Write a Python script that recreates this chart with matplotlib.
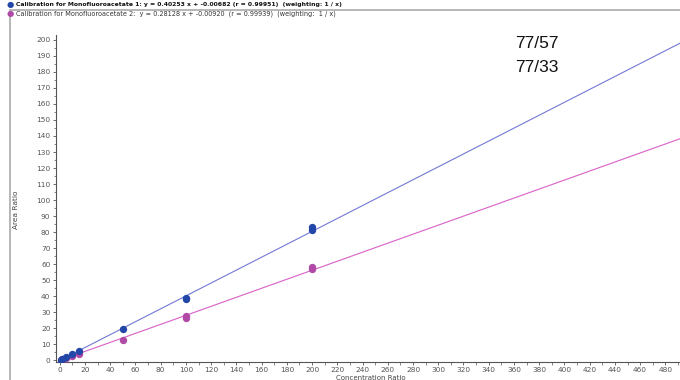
import matplotlib
matplotlib.use("Agg")
import matplotlib.pyplot as plt
import numpy as np
from matplotlib.ticker import MultipleLocator
from matplotlib.lines import Line2D

conc = [1, 2, 5, 10, 15, 50, 100, 100, 200, 200]
area1 = [0.4, 0.8, 2.0, 4.0, 6.0, 19.5, 38.0, 39.0, 81.5, 83.0]
area2 = [0.3, 0.6, 1.4, 2.8, 4.0, 13.0, 26.3, 27.5, 56.8, 58.0]
fit1 = (0.40253, -0.00682)
fit2 = (0.28128, -0.00920)
legend1 = "Calibration for Monofluoroacetate 1: y = 0.40253 x + -0.00682 (r = 0.99951)  (weighting: 1 / x)"
legend2 = "Calibration for Monofluoroacetate 2:  y = 0.28128 x + -0.00920  (r = 0.99939)  (weighting:  1 / x)"
notes = ["77/57", "77/33"]

c1_pt, c1_ln = "#2347a8", "#7378d4"
c2_pt, c2_ln = "#b04aa6", "#d860c8"

fig = plt.figure(figsize=(6.8, 3.8), dpi=100)
ax = fig.add_axes([56/680, 18/380, 1 - 56/680 + 0.01, (362-35)/380])
ax.set_xlim(-3, 497)
ax.set_ylim(-1, 203)

xs = np.array([0, 520])
ax.plot(xs, fit1[0]*xs + fit1[1], color=c1_ln, lw=0.8, zorder=2)
ax.plot(xs, fit2[0]*xs + fit2[1], color=c2_ln, lw=0.8, zorder=2)
ax.scatter(conc, area2, s=28, color=c2_pt, zorder=3, linewidths=0)
ax.scatter(conc, area1, s=28, color=c1_pt, zorder=3, linewidths=0)

for s in ["top", "right"]:
    ax.spines[s].set_visible(False)
for s in ["left", "bottom"]:
    ax.spines[s].set_color("#555555")
    ax.spines[s].set_linewidth(0.8)

ax.xaxis.set_major_locator(MultipleLocator(20))
ax.xaxis.set_minor_locator(MultipleLocator(10))
ax.yaxis.set_major_locator(MultipleLocator(10))
ax.yaxis.set_minor_locator(MultipleLocator(5))
ax.tick_params(axis="both", which="major", length=2.5, width=0.6, color="#555555",
               labelsize=5.3, labelcolor="#555555", pad=1.5)
ax.tick_params(axis="x", which="major", pad=0.8)
ax.tick_params(axis="both", which="minor", length=1.8, width=0.5, color="#555555")

fig.text(371/680, 1 - 377.5/380, "Concentration Ratio", fontsize=5.0, color="#444444",
         va="center", ha="center")
fig.text(16/680, 1 - 210/380, "Area Ratio", fontsize=5.3, color="#444444",
         rotation=90, va="center", ha="center")

for i, t in enumerate(notes):
    fig.text(515/680, 1 - (43 + i*25)/380, t, fontsize=12.5, color="#111111",
             va="center", ha="left", family="Liberation Sans")

# frame lines
fig.add_artist(Line2D([11/680, 1], [1 - 10/380, 1 - 10/380], transform=fig.transFigure,
                      color="#aaaaaa", lw=1.2))
fig.add_artist(Line2D([10/680, 10/680], [0, 1 - 10/380], transform=fig.transFigure,
                      color="#aaaaaa", lw=1.2))

fig.text(7/680, 1 - 4.5/380, "●", color=c1_pt, fontsize=6, va="center", ha="left")
fig.text(16/680, 1 - 4.5/380, legend1, color="#111111", fontsize=4.4, va="center",
         ha="left", fontweight="bold")
fig.text(7/680, 1 - 13.5/380, "●", color=c2_pt, fontsize=6, va="center", ha="left")
fig.text(16/680, 1 - 13.5/380, legend2, color="#333333", fontsize=4.7, va="center", ha="left")

fig.savefig("out.png", dpi=100)
